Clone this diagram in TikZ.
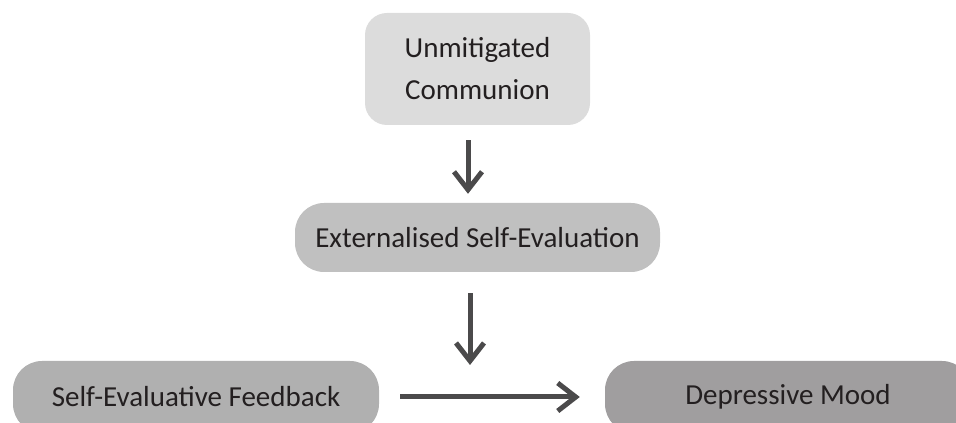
\documentclass[tikz,border=0pt]{standalone}
\usepackage{fontspec}
\setmainfont{Carlito}
\usetikzlibrary{arrows.meta}
\definecolor{fillA}{HTML}{DCDCDC}
\definecolor{fillB}{HTML}{C0C0C0}
\definecolor{fillC}{HTML}{B0B0B0}
\definecolor{fillD}{HTML}{A09E9F}
\definecolor{linkgray}{HTML}{4B4A4B}
\definecolor{txt}{HTML}{231F20}
\begin{document}
\begin{tikzpicture}[>={Straight Barb[length=18bp,width=28bp]},line join=miter,
  box/.style={fill=#1,draw=none,inner sep=0pt,rounded corners=29bp,text=txt,
    font=\fontsize{29bp}{42bp}\selectfont,align=center},
  link/.style={draw=linkgray,line width=5bp,->}]
\path[use as bounding box,clip] (0bp,0bp) rectangle (956bp,423bp);
%%
\node (node_0) at (477.5bp,354bp) [box=fillA,rounded corners=22bp,minimum width=225bp,minimum height=112bp] {Unmitigated\\Communion};
  \node (node_1) at (477.5bp,185.5bp) [box=fillB,minimum width=365bp,minimum height=69bp] {Externalised Self-Evaluation};
  \node (node_2) at (196bp,26bp) [box=fillC,minimum width=366bp,minimum height=72bp] {Self-Evaluative Feedback};
  \node (node_3) at (788bp,26bp) [box=fillD,minimum width=366bp,minimum height=72bp] {Depressive Mood};
  \coordinate (mod) at (470bp,58bp);
  \draw [link,shorten <=15bp,shorten >=9bp] ([xshift=-9.5bp]node_0.south) -- ([xshift=-9.5bp]node_1.north);
  \draw [link,shorten <=21bp] ([xshift=-7.5bp]node_1.south) -- (mod);
  \draw [link,shorten <=21bp,shorten >=25bp] (node_2) -- (node_3);
%
\end{tikzpicture}
\end{document}
